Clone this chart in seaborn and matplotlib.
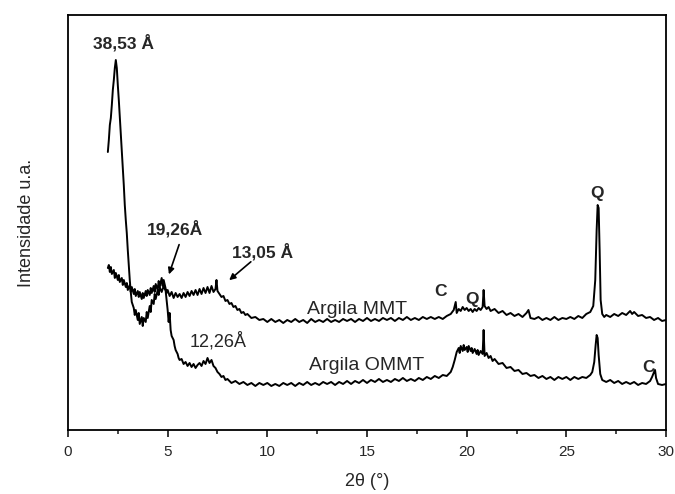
import matplotlib
matplotlib.use("Agg")
import matplotlib.pyplot as plt
from matplotlib.ticker import MultipleLocator
import seaborn as sns
import pandas as pd

# ---- data (2theta in degrees, intensity in arbitrary units) ----
mmt_x = [2.0, 2.05, 2.1, 2.15, 2.2, 2.3, 2.35, 2.4, 2.5, 2.55,
         2.6, 2.7, 2.75, 2.8, 2.9, 2.95, 3.0, 3.1, 3.15, 3.2,
         3.3, 3.35, 3.4, 3.5, 3.55, 3.6, 3.7, 3.75, 3.8, 3.9,
         3.95, 4.0, 4.1, 4.15, 4.2, 4.3, 4.35, 4.4, 4.5, 4.55,
         4.6, 4.7, 4.75, 4.8, 4.9, 4.95, 5.0, 5.1, 5.2, 5.3,
         5.4, 5.5, 5.6, 5.7, 5.8, 5.9, 6.0, 6.1, 6.2, 6.3,
         6.4, 6.5, 6.6, 6.7, 6.8, 6.9, 7.0, 7.1, 7.2, 7.3,
         7.4, 7.45, 7.5, 7.6, 7.7, 7.8, 7.9, 8.0, 8.1, 8.2,
         8.3, 8.4, 8.5, 8.6, 8.7, 8.8, 8.9, 9.0, 9.2, 9.4,
         9.6, 9.8, 10.0, 10.2, 10.4, 10.6, 10.8, 11.0, 11.2, 11.4,
         11.6, 11.8, 12.0, 12.2, 12.4, 12.6, 12.8, 13.0, 13.2, 13.4,
         13.6, 13.8, 14.0, 14.2, 14.4, 14.6, 14.8, 15.0, 15.2, 15.4,
         15.6, 15.8, 16.0, 16.2, 16.4, 16.6, 16.8, 17.0, 17.2, 17.4,
         17.6, 17.8, 18.0, 18.2, 18.4, 18.6, 18.8, 19.0, 19.2, 19.35,
         19.45, 19.5, 19.6, 19.7, 19.8, 19.9, 20.0, 20.1, 20.2, 20.3,
         20.4, 20.5, 20.6, 20.7, 20.8, 20.85, 20.9, 21.0, 21.1, 21.2,
         21.4, 21.6, 21.8, 22.0, 22.2, 22.4, 22.6, 22.8, 23.0, 23.1,
         23.2, 23.4, 23.6, 23.8, 24.0, 24.2, 24.4, 24.6, 24.8, 25.0,
         25.2, 25.4, 25.6, 25.8, 26.0, 26.2, 26.35, 26.45, 26.52, 26.57,
         26.62, 26.67, 26.72, 26.8, 26.9, 27.0, 27.2, 27.4, 27.6, 27.8,
         28.0, 28.2, 28.3, 28.4, 28.6, 28.8, 29.0, 29.2, 29.4, 29.6,
         29.8, 30.0]
mmt_y = [162, 165, 158, 163, 156, 160, 152, 157, 150, 155,
         148, 152, 145, 150, 143, 147, 140, 145, 138, 143,
         136, 141, 134, 139, 133, 138, 131, 137, 132, 139,
         134, 140, 135, 142, 137, 144, 138, 146, 140, 149,
         143, 152, 144, 150, 141, 137, 140, 134, 138, 132,
         137, 133, 136, 132, 137, 133, 138, 134, 139, 135,
         140, 135, 141, 136, 142, 137, 143, 137, 144, 138,
         141, 150, 139, 136, 133, 134, 129, 130, 126, 127,
         123, 124, 120, 121, 117, 118, 115, 116, 112, 113,
         110, 111, 108, 111, 108, 110, 107, 110, 108, 111,
         108, 110, 107, 111, 108, 110, 108, 111, 108, 110,
         108, 111, 109, 111, 108, 111, 109, 112, 109, 111,
         109, 112, 110, 112, 109, 112, 110, 113, 110, 112,
         110, 113, 111, 113, 111, 113, 111, 114, 116, 120,
         128, 117, 121, 119, 123, 120, 122, 119, 121, 118,
         121, 119, 122, 120, 123, 140, 124, 121, 123, 119,
         121, 117, 119, 115, 117, 114, 116, 113, 117, 120,
         112, 111, 113, 110, 112, 110, 113, 110, 112, 111,
         113, 111, 114, 112, 116, 118, 124, 150, 200, 225,
         222, 180, 130, 116, 113, 115, 113, 116, 114, 117,
         115, 119, 116, 118, 114, 115, 112, 113, 110, 112,
         109, 110]

ommt_x = [2.0, 2.05, 2.1, 2.15, 2.2, 2.25, 2.3, 2.35, 2.4, 2.45,
          2.5, 2.55, 2.6, 2.65, 2.7, 2.75, 2.8, 2.85, 2.9, 2.95,
          3.0, 3.05, 3.1, 3.15, 3.2, 3.3, 3.35, 3.4, 3.5, 3.55,
          3.6, 3.7, 3.75, 3.8, 3.9, 3.95, 4.0, 4.1, 4.15, 4.2,
          4.3, 4.35, 4.4, 4.5, 4.55, 4.6, 4.7, 4.8, 4.9, 4.95,
          5.0, 5.05, 5.1, 5.15, 5.2, 5.3, 5.35, 5.4, 5.5, 5.55,
          5.6, 5.7, 5.8, 5.9, 6.0, 6.1, 6.2, 6.3, 6.4, 6.5,
          6.6, 6.7, 6.8, 6.9, 7.0, 7.1, 7.2, 7.3, 7.4, 7.5,
          7.6, 7.7, 7.8, 7.9, 8.0, 8.2, 8.4, 8.6, 8.8, 9.0,
          9.2, 9.4, 9.6, 9.8, 10.0, 10.2, 10.4, 10.6, 10.8, 11.0,
          11.2, 11.4, 11.6, 11.8, 12.0, 12.2, 12.4, 12.6, 12.8, 13.0,
          13.2, 13.4, 13.6, 13.8, 14.0, 14.2, 14.4, 14.6, 14.8, 15.0,
          15.2, 15.4, 15.6, 15.8, 16.0, 16.2, 16.4, 16.6, 16.8, 17.0,
          17.2, 17.4, 17.6, 17.8, 18.0, 18.2, 18.4, 18.6, 18.8, 19.0,
          19.2, 19.3, 19.4, 19.5, 19.6, 19.65, 19.7, 19.8, 19.85, 19.9,
          20.0, 20.05, 20.1, 20.2, 20.25, 20.3, 20.4, 20.5, 20.55, 20.6,
          20.7, 20.8, 20.85, 20.9, 21.0, 21.1, 21.2, 21.3, 21.4, 21.6,
          21.8, 22.0, 22.2, 22.4, 22.6, 22.8, 23.0, 23.2, 23.4, 23.6,
          23.8, 24.0, 24.2, 24.4, 24.6, 24.8, 25.0, 25.2, 25.4, 25.6,
          25.8, 26.0, 26.2, 26.3, 26.4, 26.47, 26.52, 26.57, 26.62, 26.7,
          26.8, 27.0, 27.2, 27.4, 27.6, 27.8, 28.0, 28.2, 28.4, 28.6,
          28.8, 29.0, 29.2, 29.3, 29.4, 29.45, 29.5, 29.6, 29.8, 30.0]
ommt_y = [278, 290, 305, 312, 325, 340, 350, 362, 370, 362,
          345, 330, 313, 295, 278, 263, 245, 225, 210, 197,
          180, 165, 150, 138, 128, 122, 115, 120, 110, 117,
          106, 113, 104, 112, 108, 118, 112, 124, 118, 130,
          126, 136, 131, 140, 135, 143, 138, 144, 139, 130,
          120, 108, 117, 100, 94, 90, 84, 80, 76, 72,
          70, 71, 66, 68, 64, 67, 63, 66, 62, 65,
          67, 64, 69, 66, 72, 67, 70, 64, 62, 58,
          56, 53, 54, 50, 51, 47, 49, 46, 48, 45,
          47, 44, 47, 45, 47, 44, 46, 44, 47, 45,
          47, 44, 47, 45, 48, 45, 47, 45, 48, 46,
          48, 45, 48, 46, 49, 46, 49, 47, 50, 47,
          50, 48, 51, 48, 50, 48, 51, 49, 52, 49,
          51, 49, 52, 50, 53, 51, 54, 52, 55, 54,
          58, 63, 70, 78, 82, 77, 84, 79, 85, 80,
          83, 78, 84, 79, 82, 77, 81, 76, 80, 75,
          79, 76, 100, 74, 77, 72, 74, 69, 71, 66,
          67, 62, 63, 59, 60, 56, 57, 54, 55, 52,
          54, 51, 53, 50, 53, 51, 53, 50, 53, 51,
          53, 52, 55, 58, 68, 85, 95, 92, 75, 56,
          50, 48, 50, 47, 49, 46, 48, 46, 48, 45,
          47, 46, 49, 53, 58, 60, 52, 46, 45, 46]

series_names = ["Argila MMT", "Argila OMMT"]
x_ticks = [0, 5, 10, 15, 20, 25, 30]

# ---- styling ----
sns.set_style("ticks")
plt.rcParams["font.family"] = ["Liberation Sans", "DejaVu Sans"]

fig = plt.figure(figsize=(6.75, 4.94), dpi=100)
ax = fig.add_axes([0.1007, 0.1296, 0.886, 0.840])

df_mmt = pd.DataFrame({"x": mmt_x, "y": mmt_y})
df_ommt = pd.DataFrame({"x": ommt_x, "y": ommt_y})
sns.lineplot(data=df_mmt, x="x", y="y", ax=ax, color="black", lw=1.4,
             estimator=None, sort=False)
sns.lineplot(data=df_ommt, x="x", y="y", ax=ax, color="black", lw=1.4,
             estimator=None, sort=False)

ax.set_xlim(0, 30)
ax.set_ylim(0, 415)
ax.set_xticks(x_ticks)
ax.xaxis.set_minor_locator(MultipleLocator(2.5))
ax.set_yticks([])
ax.tick_params(axis="x", which="major", direction="out", length=5, width=1.3,
               labelsize=11, pad=6)
ax.tick_params(axis="x", which="minor", direction="out", length=3, width=1.2)
for s in ax.spines.values():
    s.set_linewidth(1.3)
    s.set_color("black")

ax.set_xlabel("2\u03b8 (\u00b0)", fontsize=13, labelpad=10)
ax.set_ylabel("Intensidade u.a.", fontsize=13, labelpad=24)

# ---- annotations ----
bold = dict(fontsize=12.5, fontweight="bold", ha="center", va="center")
ax.text(2.81, 387, "38,53 \u00c5", **bold)
ax.text(5.37, 201, "19,26\u00c5", **bold)
ax.text(9.78, 178, "13,05 \u00c5", **bold)
ax.text(7.53, 89, "12,26\u00c5", fontsize=13, ha="center", va="center")
ax.annotate("", xy=(5.02, 153), xytext=(5.62, 188),
            arrowprops=dict(arrowstyle="-|>", color="black", lw=1.2,
                            mutation_scale=9))
ax.annotate("", xy=(7.98, 148), xytext=(9.28, 170),
            arrowprops=dict(arrowstyle="-|>", color="black", lw=1.2,
                            mutation_scale=9))
ax.text(18.67, 138, "C", **bold)
ax.text(20.27, 130, "Q", **bold)
ax.text(26.54, 237, "Q", **bold)
ax.text(29.1, 62, "C", **bold)
ax.text(14.5, 120, series_names[0], fontsize=14, ha="center", va="center")
ax.text(15.0, 64, series_names[1], fontsize=14, ha="center", va="center")

fig.savefig("out.png", dpi=100)
